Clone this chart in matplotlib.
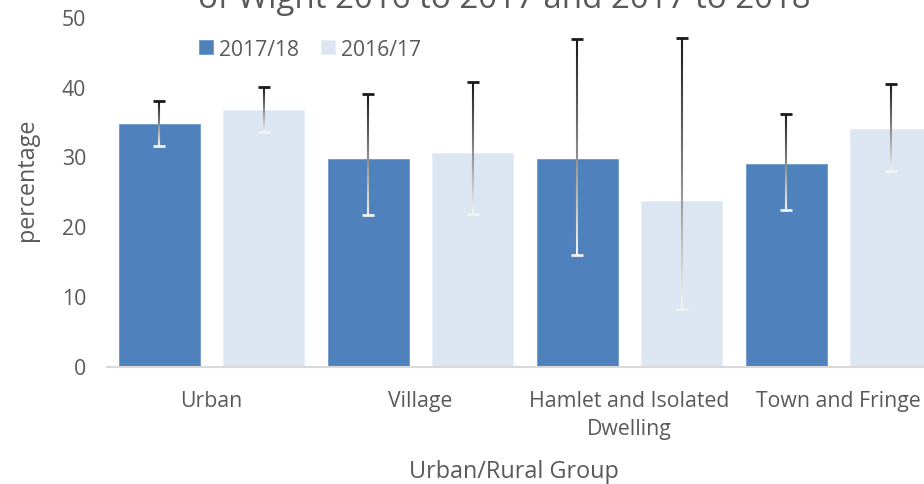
import numpy as np
import matplotlib
matplotlib.use("Agg")
import matplotlib.pyplot as plt
from matplotlib.collections import LineCollection

plt.rcParams['font.family'] = ['Open Sans', 'DejaVu Sans']

categories = ['Urban', 'Village', 'Hamlet and Isolated\nDwelling', 'Town and Fringe']
series_names = ['2017/18', '2016/17']
values_1718 = [34.7, 29.7, 29.6, 28.9]
low_1718 = [31.5, 21.6, 15.9, 22.3]
high_1718 = [37.9, 39.0, 46.8, 36.1]
values_1617 = [36.7, 30.5, 23.7, 33.9]
low_1617 = [33.5, 21.8, 8.2, 27.9]
high_1617 = [40.0, 40.6, 47.0, 40.4]

TEXT = '#595959'
DARK = '#4f81bd'
LIGHT = '#dce6f2'

W, H = 924, 485
fig = plt.figure(figsize=(W / 100, H / 100), dpi=100)
ax = fig.add_axes([107 / W, 1 - 367.5 / H, 836 / W, 350 / H])

x = np.arange(len(categories))
off, bw = 0.249, 0.388


def grad_errorbar(xs, lo, hi):
    # Excel-style error bar: dark at the top fading to white at the bottom
    n = 60
    for xi, l, h in zip(xs, lo, hi):
        ys = np.linspace(h, l, n + 1)
        segs = [[(xi, ys[i]), (xi, ys[i + 1])] for i in range(n)]
        t = np.linspace(0, 1, n)
        g = 0.1 + 0.85 * t
        cols = np.column_stack([g, g, g])
        ax.add_collection(LineCollection(segs, colors=cols, linewidths=1.5, zorder=4))
    ax.plot(xs, hi, ls='none', marker='_', ms=9, mew=2.0, color='#1a1a1a', zorder=5)
    ax.plot(xs, lo, ls='none', marker='_', ms=9, mew=2.0, color='#f2f2f2', zorder=5)


ax.bar(x - off, values_1718, bw, color=DARK, edgecolor='#6f97c9', linewidth=0.6,
       label=series_names[0], zorder=2)
ax.bar(x + off, values_1617, bw, color=LIGHT, edgecolor='#e8eef7', linewidth=0.6,
       label=series_names[1], zorder=2)
grad_errorbar(x - off, low_1718, high_1718)
grad_errorbar(x + off, low_1617, high_1617)

ax.set_xlim(-0.5, len(categories) - 0.5)
ax.set_ylim(0, 50)
ax.set_yticks(range(0, 51, 10))
ax.set_xticks(x)
ax.set_xticklabels(categories, linespacing=1.4)
ax.tick_params(axis='both', length=0, labelsize=15.3, colors=TEXT)
ax.tick_params(axis='y', pad=15)
ax.tick_params(axis='x', pad=17)
for s in ['top', 'right', 'left']:
    ax.spines[s].set_visible(False)
ax.spines['bottom'].set_color('#d9d9d9')
ax.spines['bottom'].set_linewidth(1.5)

fig.text(27 / W, 1 - 180 / H, 'percentage', rotation=90, ha='center', va='center',
         fontsize=16.8, color=TEXT)
fig.text(514 / W, 1 - 472 / H, 'Urban/Rural Group', ha='center', va='center',
         fontsize=16.8, color=TEXT)
fig.text(504 / W, 1 - 8 / H, 'of Wight 2016 to 2017 and 2017 to 2018', ha='center',
         va='baseline', fontsize=23.8, color=TEXT)

ax.legend(loc='center left', bbox_to_anchor=(199 / W, 1 - 50 / H),
          bbox_transform=fig.transFigure, ncol=2, frameon=False, fontsize=15.2,
          labelcolor=TEXT, handlelength=0.65, handleheight=0.65, handletextpad=0.3,
          columnspacing=1.05, borderpad=0, borderaxespad=0)

fig.savefig('out.png', dpi=100)
